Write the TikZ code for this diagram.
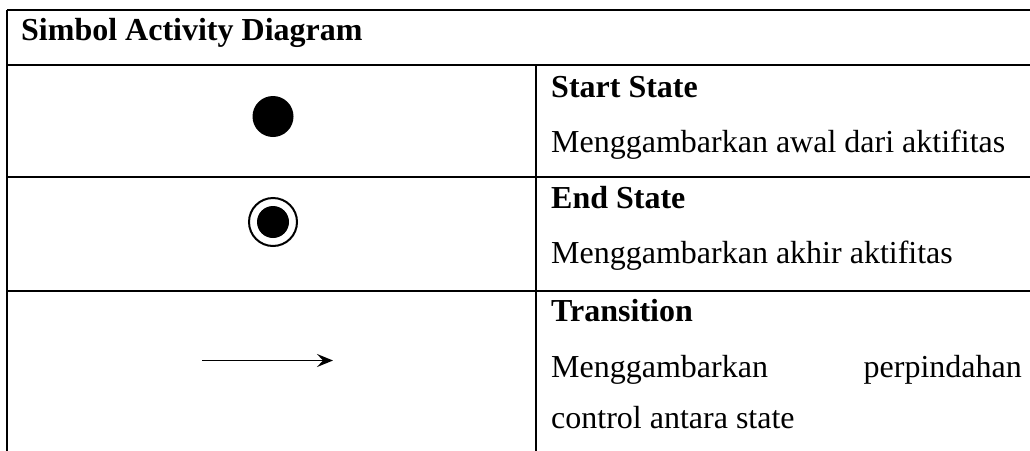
\documentclass[tikz,border=0pt]{standalone}
\usepackage{fontspec}
\setmainfont{Liberation Serif}
\usetikzlibrary{arrows.meta}

\begin{document}
\begin{tikzpicture}[x=1pt, y=-1pt]
    \tikzset{
        rule/.style={line width=2.6pt},
        desc/.style={anchor=base west, inner sep=0pt, font=\fontsize{32}{38}\selectfont},
        head/.style={desc, font=\fontsize{32}{38}\selectfont\bfseries}
    }
    \useasboundingbox (0, 0) rectangle (1030, 450);
    \clip (0, 0) rectangle (1030, 450);

    \coordinate (TL) at (7, 10);
    \coordinate (TR) at (1040, 10);
    \coordinate (BL) at (7, 460);
    \coordinate (HL) at (7, 65);
    \coordinate (HR) at (1040, 65);
    \coordinate (MT) at (536, 65);
    \coordinate (MB) at (536, 460);
    \coordinate (AL) at (7, 177);
    \coordinate (AR) at (1040, 177);
    \coordinate (BLr) at (7, 291);
    \coordinate (BRr) at (1040, 291);

    % table rules
    \draw[rule] (TL) -- (TR);
    \draw[rule] (HL) -- (HR);
    \draw[rule] (AL) -- (AR);
    \draw[rule] (BLr) -- (BRr);
    \draw[rule] (TL) -- (BL);
    \draw[rule] (MT) -- (MB);

    \node[head] (title) at (21, 40) {Simbol Activity Diagram};

    % symbols
    \node[circle, fill=black, minimum size=41pt, inner sep=0pt] (startdot) at (273, 116.5) {};
    \node[circle, draw=black, line width=2pt, minimum size=48pt, inner sep=0pt] (endring) at (273, 222) {};
    \node[circle, fill=black, minimum size=32pt, inner sep=0pt] (enddot) at (endring) {};
    \coordinate (arrfrom) at (202, 360.5);
    \coordinate (arrto) at (333, 360.5);
    \draw[line width=1.8pt, -{Stealth[length=16pt, width=13pt, inset=6pt]}] (arrfrom) -- (arrto);

    % descriptions
    \node[head] (starthead) at (551, 97) {Start State};
    \node[desc] (starttext) at (551, 152) {Menggambarkan awal dari aktifitas};
    \node[head] (endhead) at (551, 208) {End State};
    \node[desc] (endtext) at (551, 263) {Menggambarkan akhir aktifitas};
    \node[head] (transhead) at (551, 321) {Transition};
    \node[desc] (transtexta) at (551, 377) {Menggambarkan};
    \node[desc, anchor=base east] (transtextb) at (1022, 377) {perpindahan};
    \node[desc] (transtextc) at (551, 428) {control antara state};
\end{tikzpicture}
\end{document}
